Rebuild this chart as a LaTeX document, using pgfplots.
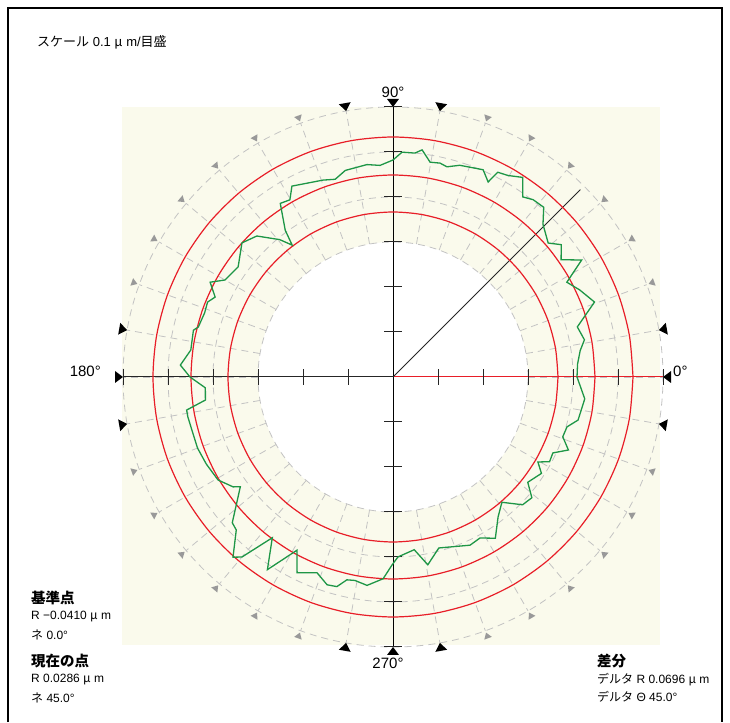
\documentclass[border=0pt]{standalone}
\usepackage{pgfplots}
\pgfplotsset{compat=1.18}
\usepgfplotslibrary{polar}
\usepackage{fontspec}
\setmainfont{Liberation Sans}
\newfontfamily\jp{Noto Sans CJK JP}
\definecolor{bgy}{RGB}{250,250,236}
\definecolor{rred}{RGB}{232,30,40}
\definecolor{ggreen}{RGB}{30,150,70}
\definecolor{dgray}{RGB}{195,195,195}
\begin{document}
\begin{tikzpicture}[x=1pt,y=1pt]
\useasboundingbox (0,0) rectangle (730,722);
\fill[white] (0,0) rectangle (730,722);
% frame
\draw[black, line width=1.4pt] (8,0) -- (8,714) -- (722,714) -- (722,0);
% background square
\fill[bgy] (122,77) rectangle (660,615);
\begin{scope}[shift={(393,345)}]
  \fill[white] (0,0) circle[radius=135pt];
  \foreach \r in {135,180,225,270}
    \draw[dgray, line width=0.8pt, dash pattern=on 7pt off 5pt] (0,0) circle[radius=\r pt];
  \foreach \a in {0,10,...,350}
    \draw[dgray, line width=0.8pt, dash pattern=on 7pt off 5pt] (\a:135pt) -- (\a:270pt);
  % outer markers
  \foreach \a in {0,10,80,90,100,170,180,190,260,270,280,350}
    \fill[black, rotate=\a] (270pt,0pt) -- (278pt,6pt) -- (278pt,-6pt) -- cycle;
  \foreach \a in {20,30,40,50,60,70,110,120,130,140,150,160,200,210,220,230,240,250,290,300,310,320,330,340}
    \fill[black!40, rotate=\a] (272pt,0pt) -- (278pt,4pt) -- (278pt,-4pt) -- cycle;
  % axis lines
  \draw[black!85, line width=1pt] (-270pt,0pt) -- (0pt,0pt);
  \draw[rred, line width=1pt] (0pt,0pt) -- (270pt,0pt);
  \draw[black, line width=1pt] (0pt,-270pt) -- (0pt,270pt);
  \foreach \k in {45,90,135,180,225,270}{
    \draw[black!85, line width=1pt] (\k pt,-8pt) -- (\k pt,8pt);
    \draw[black!85, line width=1pt] (-\k pt,-8pt) -- (-\k pt,8pt);
    \draw[black!85, line width=1pt] (-9pt,\k pt) -- (9pt,\k pt);
    \draw[black!85, line width=1pt] (-9pt,-\k pt) -- (9pt,-\k pt);
  }
  \draw[black!85, line width=0.8pt] (0,0) -- (45:265pt);
\end{scope}
\begin{axis}[
  at={(393pt,345pt)}, anchor=origin,
  width=540pt, height=540pt, scale only axis,
  xmin=-270, xmax=270, ymin=-270, ymax=270,
  hide axis, clip=false,
]
% reference circles
\addplot[rred, line width=1.2pt, smooth, data cs=polar] coordinates {
(0,240)(10,240)(20,240)(30,240)(40,240)(50,240)(60,240)(70,240)(80,240)(90,240)
(100,240)(110,240)(120,240)(130,240)(140,240)(150,240)(160,240)(170,240)(180,240)
(190,240)(200,240)(210,240)(220,240)(230,240)(240,240)(250,240)(260,240)(270,240)
(280,240)(290,240)(300,240)(310,240)(320,240)(330,240)(340,240)(350,240)(360,240)};
\addplot[rred, line width=1.2pt, smooth, data cs=polar] coordinates {
(0,202)(10,202)(20,202)(30,202)(40,202)(50,202)(60,202)(70,202)(80,202)(90,202)
(100,202)(110,202)(120,202)(130,202)(140,202)(150,202)(160,202)(170,202)(180,202)
(190,202)(200,202)(210,202)(220,202)(230,202)(240,202)(250,202)(260,202)(270,202)
(280,202)(290,202)(300,202)(310,202)(320,202)(330,202)(340,202)(350,202)(360,202)};
\addplot[rred, line width=1.2pt, smooth, data cs=polar] coordinates {
(0,165)(10,165)(20,165)(30,165)(40,165)(50,165)(60,165)(70,165)(80,165)(90,165)
(100,165)(110,165)(120,165)(130,165)(140,165)(150,165)(160,165)(170,165)(180,165)
(190,165)(200,165)(210,165)(220,165)(230,165)(240,165)(250,165)(260,165)(270,165)
(280,165)(290,165)(300,165)(310,165)(320,165)(330,165)(340,165)(350,165)(360,165)};
% measured profile
\addplot[ggreen, line width=1.3pt, data cs=polar] coordinates {
(0,184)(4,185)(8,189)(11,195)(15.2,191)(20.4,215)(25,206)(28.6,198)(31.8,222)
(34.9,205)(38.2,214)(40.8,205)(45.5,214)(48.4,227)(51.7,226)(54.2,222)(57,238)
(60.3,232)(62.9,230)(64,217)(66.5,226)(72.5,222)(75.6,217)(77.6,219)(80.2,218)
(82.7,229)(84.4,225)(87.7,225)(90,217)(93.5,212)(97,214)(103,212)(106.3,206)
(109.6,209)(113.9,212)(117.9,216)(120.2,205)(123,207)(126.3,182)(127.4,166)
(129.5,178)(134,196)(138.4,202)(144.6,190)(150,194)(152.6,206)(155.8,195)
(158,200)(161.2,199)(165.6,201)(166.8,205)(172.4,204)(176.8,213)(180,203)
(183.3,188)(187,189)(189.1,209)(191,209)(194.8,208)(200,208)(205,206)
(210.5,203)(214.5,194)(215.7,188)(218,197)(222.2,217)(224.3,219)(228.4,241)
(230,235)(233.1,201)(236.9,230)(241,198)(243.9,218)(248.8,210)(252.4,218)
(255,217)(257.2,208)(259.4,207)(262.9,210)(267.2,202)(269.7,188)(271.6,180)
(277,174)(280.5,191)(285,177)(294.6,185)(298.4,183)(302.4,191)(306.9,175)
(311,166)(315.4,182)(319,184)(322,171)(327,177)(329.6,168)(331.6,178)
(334.6,177)(337.4,190)(340.6,180)(344,181)(346.9,190)(353.5,193)(360,184)};
\end{axis}
% texts
\node[anchor=west, font=\fontsize{13}{15}\selectfont, inner sep=0pt] at (37,680) {{\jp スケール} 0.1 {\jp μ}\ m/{\jp 目盛}};
\node[font=\fontsize{15}{18}\selectfont, inner sep=0pt] at (393,630) {90°};
\node[anchor=east, font=\fontsize{15}{18}\selectfont, inner sep=0pt] at (101,351) {180°};
\node[anchor=west, font=\fontsize{15}{18}\selectfont, inner sep=0pt] at (673,351) {0°};
\node[font=\fontsize{15}{18}\selectfont, inner sep=0pt] at (388,59) {270°};
\begin{scope}[every node/.style={anchor=west, inner sep=0pt, font=\fontsize{12}{14}\selectfont}]
\node[font=\fontsize{14.5}{16}\selectfont\bfseries] at (31,124) {\jp 基準点};
\node at (31,105) {R −0.0410 {\jp μ}\ m};
\node at (31,87) {{\jp ネ} 0.0°};
\node[font=\fontsize{14.5}{16}\selectfont\bfseries] at (31,61) {\jp 現在の点};
\node at (31,42) {R 0.0286 {\jp μ}\ m};
\node at (31,24) {{\jp ネ} 45.0°};
\node[font=\fontsize{14.5}{16}\selectfont\bfseries] at (597,61) {\jp 差分};
\node at (597,42) {{\jp デルタ} R 0.0696 {\jp μ}\ m};
\node at (597,25) {{\jp デルタ} Θ 45.0°};
\end{scope}
\end{tikzpicture}
\end{document}
